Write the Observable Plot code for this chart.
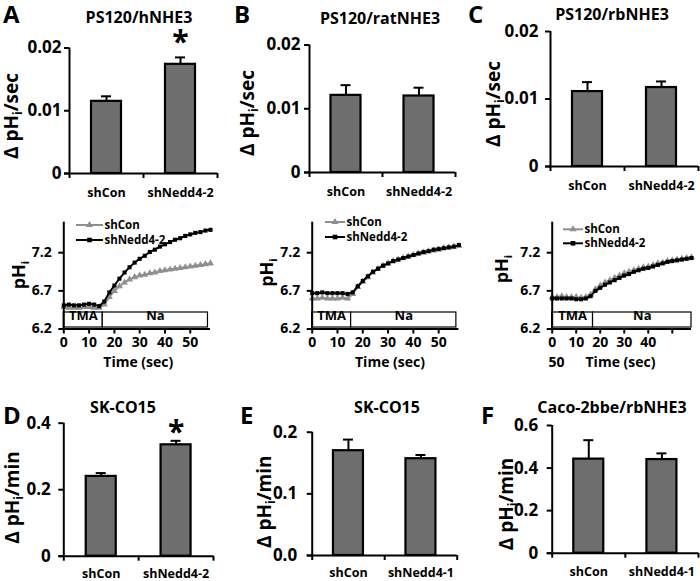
<!DOCTYPE html>
<html><head><meta charset="utf-8">
<script src="https://cdn.jsdelivr.net/npm/d3@7"></script>
<script src="https://cdn.jsdelivr.net/npm/@observablehq/plot@0.6"></script>
<style>
html,body{margin:0;padding:0;background:#fff;}
#fig{position:relative;width:700px;height:581px;overflow:hidden;background:#fff;}
</style></head><body><div id="fig"></div>
<script>
// ---------------- data ----------------
const catsNedd2 = ["shCon", "shNedd4-2"];
const catsNedd1 = ["shCon", "shNedd4-1"];

const rateA = [0.0115, 0.0174], errA = [0.0008, 0.0011], sigA = [false, true];
const rateB = [0.0121, 0.0120], errB = [0.0016, 0.0013], sigB = [false, false];
const rateC = [0.0111, 0.0117], errC = [0.0014, 0.0009], sigC = [false, false];
const rateD = [0.240, 0.335], errD = [0.010, 0.012], sigD = [false, true];
const rateE = [0.170, 0.157], errE = [0.018, 0.006], sigE = [false, false];
const rateF = [0.442, 0.440], errF = [0.089, 0.029], sigF = [false, false];

const secTicks = [0, 0.01, 0.02], secTickLabels = ["0", "0.01", "0.02"];
const dTicks = [0, 0.2, 0.4], dTickLabels = ["0", "0.2", "0.4"];
const eTicks = [0, 0.1, 0.2], eTickLabels = ["0.0", "0.1", "0.2"];
const fTicks = [0, 0.2, 0.4, 0.6], fTickLabels = ["0", "0.2", "0.4", "0.6"];

const timeSec = [0,2,4,6,8,10,12,14,16,18,20,22,24,26,28,30,32,34,36,38,40,42,44,46,48,50,52,54,56,58];
const conA = [6.49,6.48,6.48,6.48,6.49,6.49,6.48,6.48,6.52,6.62,6.70,6.76,6.81,6.85,6.88,6.90,6.91,6.93,6.94,6.96,6.97,6.98,6.99,7.00,7.01,7.02,7.03,7.04,7.05,7.06];
const nedA = [6.51,6.52,6.51,6.51,6.52,6.53,6.52,6.50,6.56,6.68,6.77,6.86,6.94,7.01,7.07,7.12,7.16,7.21,7.24,7.28,7.31,7.34,7.37,7.39,7.42,7.44,7.46,7.47,7.49,7.50];
const conB = [6.60,6.60,6.61,6.60,6.60,6.60,6.61,6.60,6.66,6.75,6.82,6.88,6.94,6.99,7.03,7.06,7.09,7.11,7.13,7.15,7.17,7.19,7.20,7.22,7.23,7.24,7.26,7.27,7.28,7.29];
const nedB = [6.67,6.67,6.68,6.67,6.67,6.67,6.67,6.66,6.68,6.76,6.83,6.89,6.95,6.99,7.03,7.06,7.09,7.11,7.13,7.15,7.17,7.19,7.21,7.22,7.24,7.25,7.26,7.27,7.28,7.30];
const conC = [6.62,6.62,6.63,6.62,6.62,6.62,6.61,6.62,6.65,6.72,6.77,6.81,6.84,6.87,6.90,6.93,6.95,6.97,6.99,7.01,7.02,7.04,7.06,7.07,7.09,7.10,7.11,7.12,7.13,7.14];
const nedC = [6.60,6.60,6.60,6.60,6.60,6.59,6.59,6.60,6.63,6.70,6.74,6.78,6.81,6.84,6.87,6.90,6.92,6.95,6.97,6.99,7.00,7.02,7.04,7.06,7.08,7.09,7.10,7.11,7.12,7.13];

const periodsAB = [{name: "TMA", start: 0, end: 15.4}, {name: "Na", start: 15.4, end: 57}];
const periodsC = [{name: "TMA", start: 0, end: 17}, {name: "Na", start: 17, end: 58}];

const pHTicks = [6.2, 6.7, 7.2], pHTickLabels = ["6.2", "6.7", "7.2"];
const timeTicks = [0, 10, 20, 30, 40, 50];
const timeTickLabels = ["0", "10", "20", "30", "40", "50"];
const timeTickLabelsC = ["0", "10", "20", "30", "40", ""];

// ---------------- drawing ----------------
const FONT = "'Open Sans', sans-serif";
const BAR = "#6e6e6e", GRAY = "#8f8f8f";
const fig = document.getElementById("fig");

function place(svg, left, top) {
  svg.style.position = "absolute";
  svg.style.left = left + "px";
  svg.style.top = top + "px";
  svg.style.overflow = "visible";
  fig.appendChild(svg);
}

function barPanel(o) {
  const [L, T, Wd, Ht] = o.region, [fx0, fx1, fy0, fy1] = o.frame;
  const data = o.cats.map((c, i) => ({i, c, v: o.rate[i], e: o.err[i], s: o.sig[i]}));
  const step = (fx1 - fx0) / o.cats.length, inset = (step - 30) / 2;
  const svg = Plot.plot({
    width: Wd, height: Ht,
    marginLeft: fx0 - L, marginRight: L + Wd - fx1, marginTop: fy0 - T, marginBottom: T + Ht - fy1,
    x: {domain: [0, o.cats.length]},
    y: {domain: [0, o.yTicks[o.yTicks.length - 1]]},
    style: {fontFamily: FONT, fontWeight: 700, color: "#000", background: "transparent", overflow: "visible"},
    marks: [
      Plot.rectY(data, {x1: "i", x2: d => d.i + 1, y: "v", insetLeft: inset, insetRight: inset, fill: BAR, stroke: "#000", strokeWidth: 2.2}),
      Plot.ruleX(data, {x: d => d.i + 0.5, y1: "v", y2: d => d.v + d.e, stroke: "#000", strokeWidth: 2}),
      Plot.ruleY(data, {y: d => d.v + d.e, x1: d => d.i + 0.5, x2: d => d.i + 0.5, insetLeft: -5, insetRight: -5, stroke: "#000", strokeWidth: 2}),
      Plot.text(data.filter(d => d.s), {x: d => d.i + 0.5, y: d => d.v + d.e, text: () => "*", fontSize: 30, fontWeight: 700, dy: o.starDy}),
      Plot.ruleY([0], {insetLeft: -5, stroke: "#000", strokeWidth: 2}),
      Plot.ruleX([0], {stroke: "#000", strokeWidth: 2}),
      Plot.axisY({ticks: o.yTicks, tickFormat: d => o.yLabels[o.yTicks.indexOf(d)], tickSize: 5, tickPadding: o.yPad, fontSize: 17, fontWeight: 700, strokeWidth: 2, label: null}),
      Plot.axisX({ticks: d3.range(o.cats.length + 1), tickSize: 5, tickFormat: () => "", strokeWidth: 2, label: null}),
      Plot.axisX({ticks: o.cats.map((c, i) => i + 0.5), tickSize: 0, tickPadding: o.xPad, tickFormat: d => o.cats[Math.round(d - 0.5)], fontSize: 12.5, fontWeight: 700, label: null})
    ]
  });
  place(svg, L, T);
}

function linePanel(o) {
  const [L, T, Wd, Ht] = o.region, [fx0, fx1, fy0, fy1] = o.frame;
  const conData = timeSec.map((t, i) => ({t, v: o.con[i]}));
  const nedData = timeSec.map((t, i) => ({t, v: o.ned[i]}));
  const svg = Plot.plot({
    width: Wd, height: Ht,
    marginLeft: fx0 - L, marginRight: L + Wd - fx1, marginTop: fy0 - T, marginBottom: T + Ht - fy1,
    x: {domain: [0, 58]},
    y: {domain: [6.2, 7.6]},
    style: {fontFamily: FONT, fontWeight: 700, color: "#000", background: "transparent", overflow: "visible"},
    marks: [
      Plot.rect(o.periods, {x1: "start", x2: "end", insetTop: fy1 - fy0 - 16.5, insetBottom: 1.5, fill: "#fff", stroke: "#000", strokeWidth: 1.2}),
      Plot.text(o.periods, {x: d => (d.start + d.end) / 2, text: "name", frameAnchor: "bottom", dy: -9, fontSize: 13, fontWeight: 700}),
      Plot.line(conData, {x: "t", y: "v", stroke: GRAY, strokeWidth: 2}),
      Plot.dot(conData, {x: "t", y: "v", symbol: "triangle", r: 2.6, fill: GRAY}),
      Plot.line(nedData, {x: "t", y: "v", stroke: "#000", strokeWidth: 2}),
      Plot.dot(nedData, {x: "t", y: "v", symbol: "square", r: 2.3, fill: "#000"}),
      Plot.ruleX([0], {stroke: "#000", strokeWidth: 2}),
      Plot.ruleY([6.2], {stroke: "#000", strokeWidth: 2}),
      Plot.axisY({ticks: pHTicks, tickFormat: d => pHTickLabels[pHTicks.indexOf(d)], tickSize: 5, tickPadding: 7, fontSize: 14, fontWeight: 700, strokeWidth: 2, label: null}),
      Plot.axisX({ticks: timeTicks, tickFormat: d => o.xLabels[timeTicks.indexOf(d)], tickSize: 5, tickPadding: 3, fontSize: 14, fontWeight: 700, strokeWidth: 2, label: null})
    ]
  });
  place(svg, L, T);
}

barPanel({region: [0, 0, 230, 200], frame: [69, 217, 47.5, 173], cats: catsNedd2, rate: rateA, err: errA, sig: sigA, yTicks: secTicks, yLabels: secTickLabels, yPad: 3, xPad: 15, starDy: -15});
barPanel({region: [230, 0, 230, 200], frame: [309, 455, 44.5, 172], cats: catsNedd2, rate: rateB, err: errB, sig: sigB, yTicks: secTicks, yLabels: secTickLabels, yPad: 4, xPad: 15, starDy: -15});
barPanel({region: [460, 0, 240, 200], frame: [550, 698, 31, 166], cats: catsNedd2, rate: rateC, err: errC, sig: sigC, yTicks: secTicks, yLabels: secTickLabels, yPad: 7, xPad: 15, starDy: -15});
barPanel({region: [0, 380, 230, 201], frame: [63.3, 213, 422.7, 555.7], cats: catsNedd2, rate: rateD, err: errD, sig: sigD, yTicks: dTicks, yLabels: dTickLabels, yPad: 8, xPad: 12.5, starDy: -8});
barPanel({region: [230, 380, 230, 201], frame: [311.7, 456.7, 431.7, 555], cats: catsNedd1, rate: rateE, err: errE, sig: sigE, yTicks: eTicks, yLabels: eTickLabels, yPad: 10, xPad: 13, starDy: -8});
barPanel({region: [460, 380, 240, 201], frame: [551.7, 698, 425, 552.7], cats: catsNedd1, rate: rateF, err: errF, sig: sigF, yTicks: fTicks, yLabels: fTickLabels, yPad: 9, xPad: 14, starDy: -8});

linePanel({region: [0, 200, 230, 180], frame: [63.3, 210, 221.7, 328.5], con: conA, ned: nedA, periods: periodsAB, xLabels: timeTickLabels});
linePanel({region: [230, 200, 230, 180], frame: [311.7, 458.4, 221.7, 328.5], con: conB, ned: nedB, periods: periodsAB, xLabels: timeTickLabels});
linePanel({region: [460, 200, 240, 180], frame: [551.7, 691, 221.7, 328.5], con: conC, ned: nedC, periods: periodsC, xLabels: timeTickLabelsC});

// ---------------- text overlay ----------------
const ov = d3.create("svg").attr("width", 700).attr("height", 581)
  .style("position", "absolute").style("left", "0px").style("top", "0px").style("pointer-events", "none")
  .attr("font-family", FONT).attr("font-weight", 700).attr("fill", "#000");

const letters = [["A", 3, 23], ["B", 234, 23], ["C", 468, 23], ["D", 3, 424], ["E", 240, 424], ["F", 481, 424]];
letters.forEach(([t, x, y]) => ov.append("text").attr("x", x).attr("y", y).attr("font-size", 24).text(t));

const titles = [["PS120/hNHE3", 139, 23], ["PS120/ratNHE3", 380, 24], ["PS120/rbNHE3", 612, 20],
  ["SK-CO15", 123, 413], ["SK-CO15", 387, 413], ["Caco-2bbe/rbNHE3", 612, 413]];
titles.forEach(([t, x, y]) => ov.append("text").attr("x", x).attr("y", y).attr("font-size", 16).attr("text-anchor", "middle").text(t));

function yTitle(cx, cy, size, before, sub, after) {
  const t = ov.append("text").attr("x", cx).attr("y", cy).attr("dy", "0.3em").attr("font-size", size)
    .attr("text-anchor", "middle").attr("transform", `rotate(-90 ${cx} ${cy})`);
  t.append("tspan").text(before);
  t.append("tspan").attr("font-size", size * 0.62).attr("dy", size * 0.22).text(sub);
  if (after) t.append("tspan").attr("dy", -size * 0.22).text(after);
}
yTitle(12.5, 116, 19, "Δ pH", "i", "/sec");
yTitle(248, 113, 19, "Δ pH", "i", "/sec");
yTitle(494, 104, 19, "Δ pH", "i", "/sec");
yTitle(13.5, 497.5, 19, "Δ pH", "i", "/min");
yTitle(265, 501.7, 19, "Δ pH", "i", "/min");
yTitle(507, 504, 19, "Δ pH", "i", "/min");
yTitle(20, 275, 18, "pH", "i", "");
yTitle(267.5, 272.5, 18, "pH", "i", "");
yTitle(503, 269, 18, "pH", "i", "");

[[138.3, 367], [390, 367], [620.5, 367]].forEach(([x, y]) =>
  ov.append("text").attr("x", x).attr("y", y).attr("font-size", 14).attr("text-anchor", "middle").text("Time (sec)"));
ov.append("text").attr("x", 556.5).attr("y", 367).attr("font-size", 14).attr("text-anchor", "middle").text("50");

function legend(x0, x1, y1, y2) {
  const xm = (x0 + x1) / 2;
  ov.append("line").attr("x1", x0).attr("x2", x1).attr("y1", y1).attr("y2", y1).attr("stroke", GRAY).attr("stroke-width", 2);
  ov.append("path").attr("d", d3.symbol(d3.symbolTriangle, 22)()).attr("transform", `translate(${xm},${y1})`).attr("fill", GRAY);
  ov.append("text").attr("x", x1 + 1.5).attr("y", y1 + 4).attr("font-size", 11.5).text("shCon");
  ov.append("line").attr("x1", x0).attr("x2", x1).attr("y1", y2).attr("y2", y2).attr("stroke", "#000").attr("stroke-width", 2);
  ov.append("rect").attr("x", xm - 2.3).attr("y", y2 - 2.3).attr("width", 4.6).attr("height", 4.6).attr("fill", "#000");
  ov.append("text").attr("x", x1 + 1.5).attr("y", y2 + 4).attr("font-size", 11.5).text("shNedd4-2");
}
legend(76, 103, 225, 240);
legend(325, 345, 222, 237);
legend(563, 583, 229.3, 243.3);

fig.appendChild(ov.node());
</script></body></html>
